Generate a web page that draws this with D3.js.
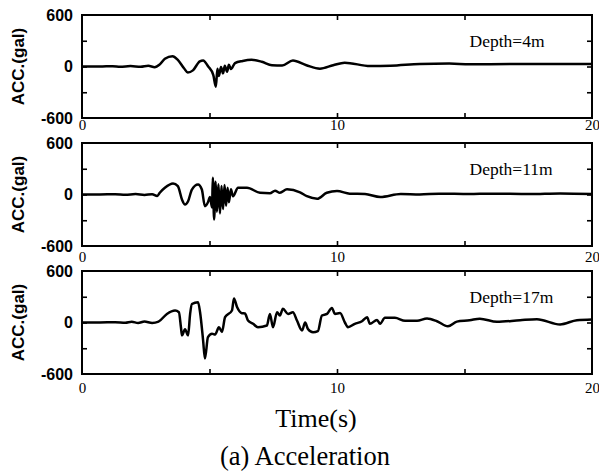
<!DOCTYPE html>
<html>
<head>
<meta charset="utf-8">
<title>Acceleration</title>
<script src="https://d3js.org/d3.v7.min.js"></script>
</head>
<body style="margin:0;background:white;">
<svg id="acc" width="599" height="476"></svg>
<script>

// acceleration records (time in s, acc in gal)
var time4 = [0, 0.7, 1.2, 1.5, 1.9, 2.3, 2.6, 2.85, 3.05, 3.25, 3.55, 3.75, 4.0, 4.15, 4.35, 4.62, 4.75, 4.95, 5.15, 5.25, 5.31, 5.37, 5.45, 5.53, 5.6, 5.69, 5.76, 5.84, 6.0, 6.3, 6.65, 7.05, 7.45, 7.85, 8.27, 8.8, 9.33, 9.85, 10.3, 11.3, 12.1, 13.25, 14.4, 15.2, 16.8, 18.35, 20]
var acc4 = [0, 0, 4, -3, 5, -4, 8, -8, 25, 90, 120, 80, -20, -70, -45, 60, 70, 0, -100, -235, -25, -110, -5, -80, 10, -60, 20, -30, 40, 65, 78, 55, 15, 12, 70, 15, -25, 15, 45, 5, 8, 30, 35, 25, 30, 30, 30]

var time11 = [0, 0.7, 1.3, 1.7, 2.1, 2.45, 2.75, 2.95, 3.05, 3.25, 3.57, 3.76, 3.92, 4.04, 4.16, 4.31, 4.55, 4.7, 4.82, 4.94, 5.02, 5.1, 5.13, 5.18, 5.24, 5.29, 5.35, 5.41, 5.47, 5.53, 5.59, 5.65, 5.71, 5.76, 5.84, 5.92, 6.12, 6.47, 6.98, 7.37, 7.57, 7.76, 8.04, 8.55, 8.82, 9.22, 9.6, 10.0, 10.5, 11.1, 11.7, 12.5, 13.25, 14.0, 15.2, 16.0, 17.55, 18.75, 20]
var acc11 = [0, 0, 3, -4, 5, -5, 3, -18, 20, 78, 128, 97, -58, -117, -78, 58, 117, 58, -136, -90, -30, -150, 194, -291, 150, -200, 120, -220, 100, -170, 110, -130, 80, -90, 60, -20, 80, 80, 20, 15, 45, 20, 60, 25, -20, -50, 20, 40, 10, 5, -30, 5, 0, 10, 5, 10, 5, 12, 5]

var time17 = [0, 0.7, 1.3, 1.7, 1.95, 2.2, 2.45, 2.75, 3.0, 3.33, 3.65, 3.8, 3.88, 3.92, 4.04, 4.16, 4.24, 4.31, 4.55, 4.63, 4.75, 4.82, 4.94, 5.1, 5.22, 5.37, 5.49, 5.61, 5.88, 5.96, 6.08, 6.27, 6.39, 6.51, 6.71, 6.9, 7.25, 7.37, 7.49, 7.65, 7.76, 7.88, 8.08, 8.27, 8.43, 8.63, 8.75, 8.86, 9.06, 9.25, 9.41, 9.61, 9.8, 9.92, 10.12, 10.31, 10.43, 10.7, 10.98, 11.18, 11.29, 11.57, 11.69, 11.88, 12.27, 12.67, 13.14, 13.53, 13.92, 14.35, 14.7, 15.2, 15.6, 16.27, 17.18, 17.84, 18.75, 19.41, 20]
var acc17 = [0, 0, 3, -3, 8, -5, 12, -5, 10, 100, 140, 120, -55, -150, -80, -150, 100, 215, 237, 120, -210, -420, -170, -130, -140, -55, -110, 62, 140, 280, 180, 108, 105, 23, -15, -55, -35, 100, -55, 120, 82, 160, 100, 120, 23, -93, 0, -75, -113, -100, 82, 100, 170, 100, 110, 0, -55, -15, 15, 62, -15, 30, -15, 55, 55, 20, 20, 47, 15, -45, 10, 25, 45, 8, 27, 38, -23, 27, 35]

var depthLabels = ["Depth=4m", "Depth=11m", "Depth=17m"]
var yTickLabels = [-600, 0, 600]
var yInnerTicks = [-300, 0, 300]
var xTickLabels = [0, 10, 20]
var xInnerTicks = [5, 10, 15]

var panels = [
	{time: time4, acc: acc4, label: depthLabels[0]},
	{time: time11, acc: acc11, label: depthLabels[1]},
	{time: time17, acc: acc17, label: depthLabels[2]}
]

var margin = {top: 15, left: 82},
	width = 510,
	height = 103,
	gap = 128
var labelPad = [1, 5, 8]

var svg = d3.select("#acc")
svg.append("rect").attr("width", 599).attr("height", 476).attr("fill", "white")

var x = d3.scaleLinear().domain([0, 20]).range([0, width])
var y = d3.scaleLinear().domain([-600, 600]).range([height, 0])

var line = d3.line()
	.curve(d3.curveMonotoneX)
	.x(function(d) { return x(d[0]) })
	.y(function(d) { return y(d[1]) })

function noDomain(sel) { sel.select(".domain").remove() }

panels.forEach(function(p, i) {
	var g = svg.append("g")
		.attr("transform", "translate(" + margin.left + "," + (margin.top + i * gap) + ")")

	// inward ticks on all four sides
	g.append("g").attr("transform", "translate(0," + height + ")")
		.call(d3.axisBottom(x).tickValues(xInnerTicks).tickSizeInner(-5).tickSizeOuter(0).tickFormat(""))
		.call(noDomain)
	g.append("g")
		.call(d3.axisTop(x).tickValues(xInnerTicks).tickSizeInner(-5).tickSizeOuter(0).tickFormat(""))
		.call(noDomain)
	g.append("g")
		.call(d3.axisLeft(y).tickValues(yInnerTicks).tickSizeInner(-5).tickSizeOuter(0).tickFormat(""))
		.call(noDomain)
	g.append("g").attr("transform", "translate(" + width + ",0)")
		.call(d3.axisRight(y).tickValues(yInnerTicks).tickSizeInner(-5).tickSizeOuter(0).tickFormat(""))
		.call(noDomain)
	g.selectAll(".tick line").attr("stroke", "black").attr("stroke-width", 1.6)

	// tick labels
	var xl = g.append("g").attr("transform", "translate(0," + height + ")")
		.call(d3.axisBottom(x).tickValues(xTickLabels).tickSize(0).tickPadding(labelPad[i]).tickFormat(d3.format("d")))
		.call(noDomain)
	xl.selectAll("text").attr("font-family", "'Liberation Serif', 'Times New Roman', serif").attr("font-size", "15px").attr("fill", "black")

	var yl = g.append("g")
		.call(d3.axisLeft(y).tickValues(yTickLabels).tickSize(0).tickPadding(9).tickFormat(function(d) { return d < 0 ? "-" + (-d) : d }))
		.call(noDomain)
	yl.selectAll("text").attr("font-family", "'Liberation Sans', Arial, sans-serif").attr("font-weight", "bold").attr("font-size", "16px").attr("fill", "black")

	g.append("text")
		.attr("transform", "translate(" + (24 - margin.left) + "," + (height / 2) + ")rotate(-90)")
		.attr("text-anchor", "middle")
		.attr("font-family", "'Liberation Sans', Arial, sans-serif")
		.attr("font-weight", "bold")
		.attr("font-size", "17px")
		.text("ACC.(gal)")

	// the record
	g.append("path")
		.datum(d3.zip(p.time, p.acc))
		.attr("d", line)
		.attr("fill", "none")
		.attr("stroke", "black")
		.attr("stroke-width", 2.5)
		.attr("stroke-linejoin", "round")

	g.append("rect")
		.attr("width", width).attr("height", height)
		.attr("fill", "none").attr("stroke", "black").attr("stroke-width", 2)

	g.append("text")
		.attr("x", x(15.2))
		.attr("y", 32)
		.attr("font-family", "'Liberation Serif', 'Times New Roman', serif")
		.attr("font-size", "17.5px")
		.text(p.label)
})

svg.append("text")
	.attr("x", 316).attr("y", 427)
	.attr("text-anchor", "middle")
	.attr("font-family", "'Liberation Serif', 'Times New Roman', serif")
	.attr("font-size", "26px")
	.text("Time(s)")

svg.append("text")
	.attr("x", 305).attr("y", 465)
	.attr("text-anchor", "middle")
	.attr("font-family", "'Liberation Serif', 'Times New Roman', serif")
	.attr("font-size", "26.5px")
	.text("(a) Acceleration")

</script>
</body>
</html>
